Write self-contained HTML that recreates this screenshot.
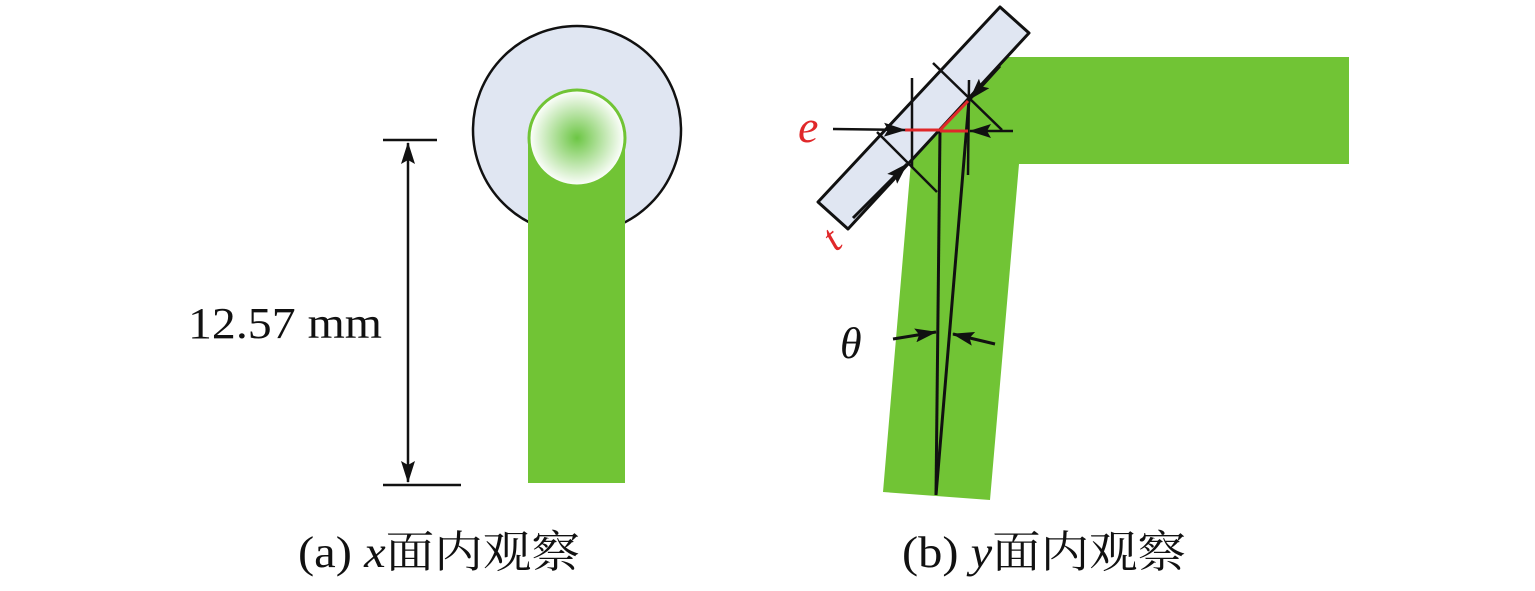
<!DOCTYPE html>
<html><head><meta charset="utf-8"><style>
html,body{margin:0;padding:0;background:#fff;width:1535px;height:591px;overflow:hidden}
</style></head><body>
<svg width="1535" height="591" viewBox="0 0 1535 591" xmlns="http://www.w3.org/2000/svg">
<defs>
<radialGradient id="g" cx="0.5" cy="0.5" r="0.5">
<stop offset="0" stop-color="#6cc644"/><stop offset="1" stop-color="#ffffff"/>
</radialGradient>
<marker id="ab" markerWidth="22" markerHeight="14" refX="21" refY="7" orient="auto-start-reverse" markerUnits="userSpaceOnUse" viewBox="0 0 22 14">
<path d="M0,0 L22,7 L0,14 L4,7 Z" fill="#111"/></marker>
</defs>
<!-- (a) -->
<circle cx="577" cy="130" r="104" fill="#e0e6f2" stroke="#111" stroke-width="2.5"/>
<rect x="528" y="135" width="97" height="348" fill="#71c435"/>
<circle cx="577" cy="138" r="48" fill="url(#g)" stroke="#71c435" stroke-width="3"/>
<line x1="383" y1="140" x2="437" y2="140" stroke="#111" stroke-width="2.5"/>
<line x1="383" y1="485" x2="461" y2="485" stroke="#111" stroke-width="2.5"/>
<line x1="408" y1="143" x2="408" y2="482" stroke="#111" stroke-width="2.5" marker-start="url(#ab)" marker-end="url(#ab)"/>
<text x="188" y="338" font-family="Liberation Serif, serif" font-size="44" fill="#111" textLength="194" lengthAdjust="spacingAndGlyphs">12.57 mm</text>
<text x="298" y="567" font-family="Liberation Serif, 'Noto Serif CJK SC', serif" font-size="44" fill="#111" textLength="282" lengthAdjust="spacingAndGlyphs">(a) <tspan font-style="italic">x</tspan>面内观察</text>
<!-- (b) -->
<polygon points="990,57 1349,57 1349,164 1019,164 990,500 883,492 912,150" fill="#71c435"/>
<polygon points="1000,7 1029,33 848,229 818,202" fill="#e0e6f2" stroke="#111" stroke-width="3" stroke-linejoin="round"/>
<line x1="912" y1="78" x2="912" y2="168" stroke="#111" stroke-width="2.5"/>
<line x1="969" y1="80" x2="968" y2="175" stroke="#111" stroke-width="2.5"/>
<line x1="933" y1="63" x2="1002" y2="130" stroke="#111" stroke-width="2.5"/>
<line x1="877" y1="132" x2="937" y2="192" stroke="#111" stroke-width="2.5"/>
<line x1="940" y1="130" x2="936" y2="495" stroke="#111" stroke-width="3"/>
<line x1="969" y1="100" x2="936" y2="495" stroke="#111" stroke-width="3"/>
<path d="M905,130 L940,130 L968,101 M940,131 L968,131" stroke="#e0282a" stroke-width="3" fill="none"/>
<line x1="833" y1="129" x2="905" y2="130" stroke="#111" stroke-width="2.5" marker-end="url(#ab)"/>
<line x1="1013" y1="131" x2="970" y2="131" stroke="#111" stroke-width="2.5" marker-end="url(#ab)"/>
<line x1="1000" y1="66" x2="970" y2="99" stroke="#111" stroke-width="3" marker-end="url(#ab)"/>
<line x1="853" y1="218" x2="907" y2="164" stroke="#111" stroke-width="3" marker-end="url(#ab)"/>
<line x1="893" y1="339" x2="936" y2="332" stroke="#111" stroke-width="3" marker-end="url(#ab)"/>
<line x1="995" y1="344" x2="953" y2="334" stroke="#111" stroke-width="3" marker-end="url(#ab)"/>
<text x="798" y="142" font-family="Liberation Serif, serif" font-style="italic" font-size="46" fill="#e0282a">e</text>
<text x="826" y="250" font-family="Liberation Serif, serif" font-style="italic" font-size="40" fill="#e0282a" transform="rotate(-40 834 238)">t</text>
<text x="840" y="358" font-family="Liberation Serif, serif" font-style="italic" font-size="44" fill="#111">θ</text>
<text x="902" y="567" font-family="Liberation Serif, 'Noto Serif CJK SC', serif" font-size="44" fill="#111" textLength="284" lengthAdjust="spacingAndGlyphs">(b) <tspan font-style="italic">y</tspan>面内观察</text>
</svg>
</body></html>
